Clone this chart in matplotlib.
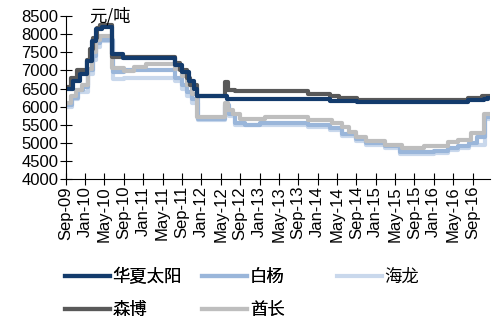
import matplotlib
matplotlib.use('Agg')
import matplotlib.pyplot as plt
import matplotlib.dates as mdates
import pandas as pd

plt.rcParams['font.family'] = ['Liberation Sans', 'Noto Sans CJK SC', 'DejaVu Sans']

# step series: change dates and price levels (元/吨)
hx_dates = ['2009-09-01', '2009-10-15', '2009-11-25', '2010-01-10', '2010-02-10', '2010-03-10',
            '2010-04-15', '2010-06-20', '2010-08-25', '2011-07-20', '2011-09-01', '2011-10-15',
            '2011-11-15', '2011-12-01', '2012-06-10', '2013-11-01', '2014-03-20', '2014-09-05',
            '2016-08-05', '2016-11-15', '2016-12-07']
hx_vals = [6500, 6700, 6900, 7250, 7800, 8150, 8200, 7450, 7350, 7150, 6950, 6700,
           6500, 6280, 6220, 6200, 6150, 6120, 6170, 6210, 6240]

sb_dates = ['2009-09-01', '2009-10-05', '2009-11-10', '2010-01-10', '2010-02-01', '2010-02-20',
            '2010-03-15', '2010-04-01', '2010-06-20', '2011-07-20', '2011-08-20', '2011-10-01',
            '2011-10-20', '2011-12-01', '2012-05-25', '2012-06-15', '2012-08-01', '2013-11-01',
            '2014-03-20', '2014-05-15', '2014-09-05', '2016-08-05', '2016-11-01', '2016-12-07']
sb_vals = [6550, 6780, 7000, 7300, 7600, 7900, 8180, 8260, 7380, 7200, 7000, 6800,
           6600, 6280, 6690, 6460, 6420, 6360, 6290, 6250, 6190, 6240, 6280, 6300]

by_dates = ['2009-09-01', '2009-10-10', '2009-11-15', '2009-12-20', '2010-01-20', '2010-02-15',
            '2010-03-10', '2010-04-01', '2010-06-25', '2010-09-01', '2011-07-20', '2011-09-01',
            '2011-10-01', '2011-11-01', '2011-12-10', '2012-05-25', '2012-06-20', '2012-08-01',
            '2012-10-01', '2013-01-01', '2013-11-01', '2014-03-20', '2014-06-01', '2014-09-01',
            '2014-11-01', '2015-03-01', '2015-06-01', '2016-01-01', '2016-04-01', '2016-06-01',
            '2016-08-10', '2016-10-01', '2016-11-20', '2016-12-07']
by_vals = [6050, 6250, 6450, 6550, 7000, 7400, 7750, 7850, 6950, 7000, 6800, 6600,
           6400, 6200, 5650, 6050, 5800, 5550, 5500, 5550, 5500, 5400, 5250, 5100,
           5000, 4900, 4750, 4780, 4850, 4900, 5000, 5150, 5700, 5700]

hl_dates = ['2009-09-01', '2009-10-10', '2009-11-15', '2010-01-20', '2010-02-15', '2010-03-10',
            '2010-04-01', '2010-06-25', '2010-09-01', '2011-07-20', '2011-09-01', '2011-10-01',
            '2011-11-01', '2011-12-10', '2012-05-25', '2012-06-20', '2012-08-01', '2013-11-01',
            '2014-03-20', '2014-06-01', '2014-09-01', '2014-11-01', '2015-03-01', '2015-06-01',
            '2016-01-01', '2016-04-01', '2016-06-01', '2016-08-10', '2016-11-20', '2016-12-07']
hl_vals = [6000, 6200, 6400, 6900, 7300, 7650, 7800, 6750, 6780, 6700, 6500, 6300,
           6100, 5620, 6000, 5750, 5500, 5450, 5350, 5200, 5050, 4950, 4850, 4700,
           4730, 4800, 4850, 4950, 5650, 5650]

qc_dates = ['2009-09-01', '2009-10-05', '2009-11-01', '2009-12-10', '2010-01-15', '2010-02-10',
            '2010-03-10', '2010-04-01', '2010-06-15', '2010-09-01', '2010-11-01', '2011-01-15',
            '2011-07-20', '2011-09-01', '2011-10-01', '2011-11-01', '2011-12-01', '2012-05-25',
            '2012-06-15', '2012-07-15', '2012-09-01', '2013-02-01', '2013-11-01', '2014-04-01',
            '2014-06-01', '2014-07-15', '2014-09-01', '2014-11-01', '2015-03-01', '2015-06-15',
            '2015-11-01', '2016-04-01', '2016-06-01', '2016-08-20', '2016-11-10', '2016-12-07']
qc_vals = [6100, 6300, 6450, 6600, 7050, 7500, 7850, 7950, 7080, 6980, 7100, 7180,
           7050, 6850, 6600, 6350, 5700, 6100, 5900, 5800, 5650, 5720, 5640, 5550,
           5450, 5310, 5170, 5050, 4950, 4870, 4900, 5020, 5090, 5270, 5800, 5800]

tick_dates = pd.date_range('2009-09-01', '2016-09-01', freq='4MS')

fig = plt.figure(figsize=(5.0, 3.22), dpi=100)
ax = fig.add_axes([0.132, 0.444, 0.848, 0.506])

lw = 3.0
ax.plot(pd.to_datetime(hl_dates), hl_vals, drawstyle='steps-post', color='#c9d8ec', lw=lw, label='海龙')
ax.plot(pd.to_datetime(by_dates), by_vals, drawstyle='steps-post', color='#9ab6da', lw=lw, label='白杨')
ax.plot(pd.to_datetime(qc_dates), qc_vals, drawstyle='steps-post', color='#bebebe', lw=lw, label='酋长')
ax.plot(pd.to_datetime(sb_dates), sb_vals, drawstyle='steps-post', color='#595959', lw=lw, label='森博')
ax.plot(pd.to_datetime(hx_dates), hx_vals, drawstyle='steps-post', color='#133b6c', lw=lw, label='华夏太阳')

ax.set_ylim(4000, 8500)
ax.set_yticks(range(4000, 8501, 500))
ax.set_xlim(pd.Timestamp('2009-09-01'), pd.Timestamp('2016-12-20'))
ax.set_xticks(tick_dates)
ax.xaxis.set_major_formatter(mdates.DateFormatter('%b-%y'))
ax.tick_params(axis='x', labelrotation=90, direction='inout', length=8, labelsize=12, pad=1)
ax.tick_params(axis='y', direction='inout', length=9, labelsize=12, pad=1)
for side in ('top', 'right'):
    ax.spines[side].set_visible(False)
ax.text(0.055, 1.0, '元/吨', transform=ax.transAxes, fontsize=12.5, va='center', ha='left',
        family=['Noto Sans CJK SC', 'DejaVu Sans'])

handles, labels = ax.get_legend_handles_labels()
lookup = dict(zip(labels, handles))
cjk = {'family': ['Noto Sans CJK SC', 'DejaVu Sans'], 'size': 12.5}
leg1 = fig.legend([lookup['华夏太阳'], lookup['森博'], lookup['白杨'], lookup['酋长']],
                  ['华夏太阳', '森博', '白杨', '酋长'], ncol=2, loc='upper left',
                  bbox_to_anchor=(0.112, 0.194), frameon=False, prop=cjk, borderpad=0,
                  handlelength=2.6, handletextpad=0.15, columnspacing=1.17, labelspacing=0.85)
leg2 = fig.legend([lookup['海龙']], ['海龙'], loc='upper left', bbox_to_anchor=(0.656, 0.194),
                  frameon=False, prop=cjk, borderpad=0, handlelength=2.6, handletextpad=0.15)
fig.add_artist(leg1)

fig.savefig('out.png', dpi=100)
